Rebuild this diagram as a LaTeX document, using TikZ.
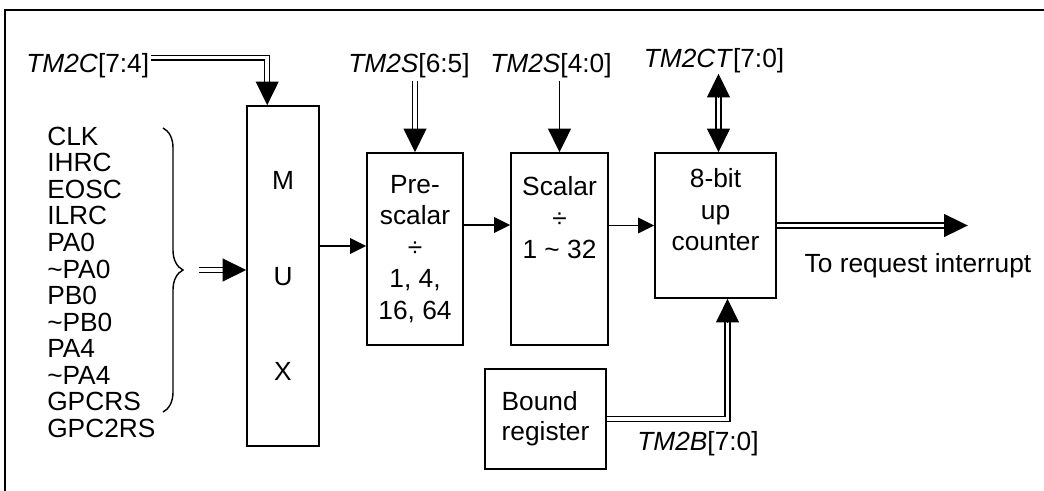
\documentclass[tikz,border=0pt]{standalone}
\usepackage{fontspec}
\setmainfont{Liberation Sans}
\usetikzlibrary{arrows.meta, calc, decorations.pathreplacing}

\begin{document}
\begin{tikzpicture}[x=0.025cm, y=-0.025cm,
  blk/.style={rectangle, draw, line width=1.1pt, inner sep=0pt, align=center,
              font=\fontsize{18.7}{22.4}\selectfont},
  lbl/.style={inner sep=0pt, font=\fontsize{18.7}{18.85}\selectfont},
  arr/.style={-{Triangle[length=0.4cm, width=0.39cm]}, line width=1.1pt},
  bigarr/.style={-{Triangle[length=0.59cm, width=0.57cm]}, line width=1pt},
  bus/.style={double, double distance=2.5pt, line width=0.95pt}
]
\useasboundingbox (0,0) rectangle (1044,491);
\draw[line width=1.8pt] (5,491) -- (5,10) -- (1044,10);

% blocks
\node[blk, minimum width=1.8cm, minimum height=8.5cm,
      font=\fontsize{18.7}{68}\selectfont] (mux) at (283,276) {M\\U\\X};
\node[blk, minimum width=2.4cm, minimum height=4.8cm] (pre) at (415,249)
  {Pre-\\scalar\\÷\\1, 4,\\16, 64};
\node[blk, minimum width=2.425cm, minimum height=4.8cm] (scal) at (559.5,249)
  {Scalar\\÷\\1 \textasciitilde{} 32\\\mbox{}\\\mbox{}};
\node[blk, minimum width=3.025cm, minimum height=3.625cm] (cnt) at (715.5,225.5)
  {8-bit\\up\\counter\\\mbox{}};
\node[blk, align=left, minimum width=3.025cm, minimum height=2.5cm,
      font=\fontsize{18.7}{21.3}\selectfont] (bnd) at (545.5,419) {Bound\\register};

% clock sources
\foreach \s [count=\i] in {CLK, IHRC, EOSC, ILRC, PA0, \textasciitilde PA0, PB0,
    \textasciitilde PB0, PA4, \textasciitilde PA4, GPCRS, GPC2RS}
  \node[lbl, anchor=base west] (in\i) at (47, 119+26.5*\i) {\s};
\draw[line width=1pt, decorate, decoration={brace, amplitude=0.5cm}]
  (163,128) -- (163,412);

% register labels
\node[lbl, anchor=base west] (tm2c) at (26,73) {\textit{TM2C}[7:4]};
\node[lbl, anchor=base] (s65) at (409,73) {\textit{TM2S}[6:5]};
\node[lbl, anchor=base] (s40) at (551,73) {\textit{TM2S}[4:0]};
\node[lbl, anchor=base] (ct) at (714,68) {\textit{TM2CT}[7:0]};
\node[lbl, anchor=base] (tm2b) at (698,450) {\textit{TM2B}[7:0]};
\node[lbl, anchor=base] (irq) at (918,272.5) {To request interrupt};

\coordinate (brtip) at (199,270);
\coordinate (muxin) at ($(mux.north west)+(21,0)$);
\coordinate (cntin) at ($(cnt.south)+(12,0)$);
\coordinate (ctin) at ($(cnt.north)+(3,0)$);
\coordinate (irqtip) at ($(cnt.east)+(191,0)$);

% buses
\draw[bus] ($(tm2c.east)+(2,-8.5)$) -| ($(muxin)+(0,-23)$);
\draw[bigarr] ($(muxin)+(0,-23)$) -- (muxin);
\draw[bus] (brtip) -- ($(brtip -| mux.west)+(-23,0)$);
\draw[bigarr] ($(brtip -| mux.west)+(-23,0)$) -- (brtip -| mux.west);
\draw[bus] ($(pre.north |- s65.south)+(0,2)$) -- ($(pre.north)+(0,-23)$);
\draw[bigarr] ($(pre.north)+(0,-23)$) -- (pre.north);
\draw[bigarr, line width=1.4pt] ($(scal.north |- s40.south)+(0,2)$) -- (scal.north);
\draw[bus] ($(ctin |- ct.south)+(0,23)$) -- ($(ctin)+(0,-23)$);
\draw[bigarr] ($(ctin)+(0,-23)$) -- (ctin);
\draw[bigarr] ($(ctin |- ct.south)+(0,23)$) -- (ctin |- ct.south);
\draw[bus] (bnd.east) -| ($(cntin)+(0,23)$);
\draw[bigarr] ($(cntin)+(0,23)$) -- (cntin);
\draw[bus] (cnt.east) -- ($(irqtip)+(-23,0)$);
\draw[bigarr] ($(irqtip)+(-23,0)$) -- (irqtip);

% clock path
\draw[arr] ($(pre.west -| mux.east)+(0,-3)$) -- ($(pre.west)+(0,-3)$);
\draw[arr] ($(pre.east)+(0,-24)$) -- ($(scal.west)+(0,-24)$);
\draw[arr] (cnt.west -| scal.east) -- (cnt.west);
\end{tikzpicture}
\end{document}
